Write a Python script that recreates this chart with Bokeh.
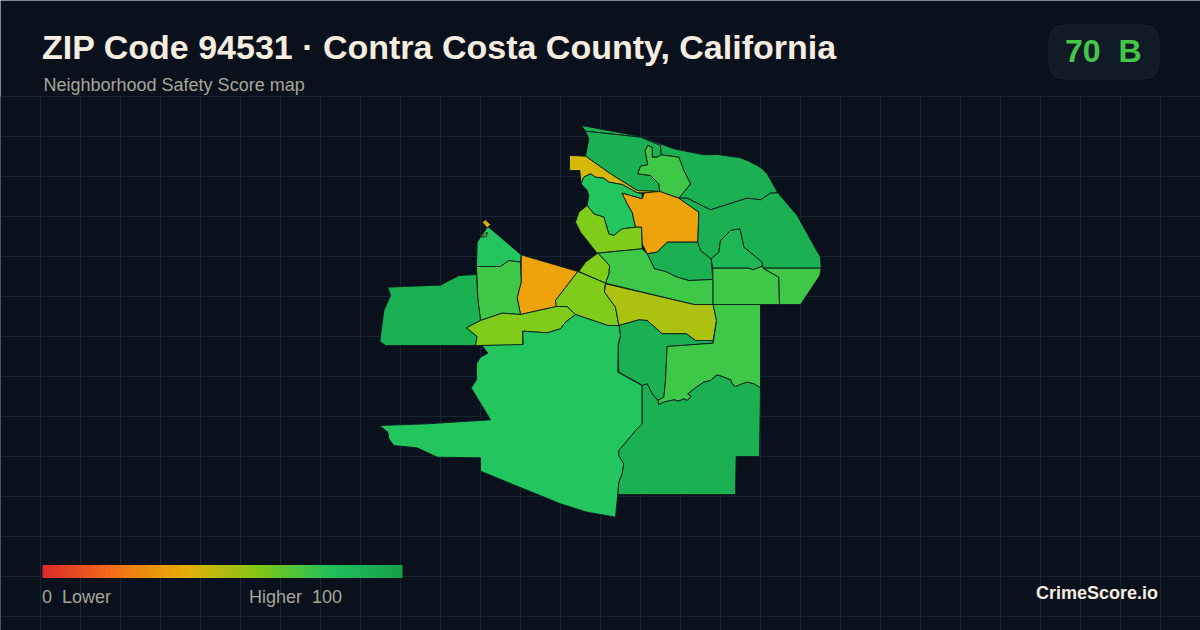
import numpy as np
from bokeh.core.properties import value
from bokeh.embed import file_html
from bokeh.models import BoxAnnotation, ColumnDataSource
from bokeh.plotting import figure
from bokeh.resources import INLINE

TITLE = "ZIP Code 94531 · Contra Costa County, California"
SUBTITLE = "Neighborhood Safety Score map"
BADGE = "70\u00a0\u00a0B"
BRAND = "CrimeScore.io"
LOW_LABEL = "0\u00a0\u00a0Lower"
HIGH_LABEL = "Higher\u00a0\u00a0100"

SCALE_STOPS = [0, 20, 40, 60, 80, 100]
SCALE_COLORS = ["#e02b2b", "#f97316", "#eab308", "#84cc16", "#22c55e", "#16a34a"]

# Region outlines: (origin x, origin y) of the trace, then points at 3 units per map unit.
A = (540, 115)
B = (370, 210)
C = (370, 330)
D = (600, 260)

north_east = [(123,30),(300,63),(400,100),(490,118),(530,117),(600,127),(625,137),(650,150),(665,160),(680,175),(712,232),(690,233),(660,253),(620,248),(510,283),(440,248),(415,248),(450,205),(430,165),(415,125),(362,118),(360,90),(300,65),(135,47)]
north_band = [(135,47),(300,65),(360,90),(362,118),(350,125),(335,125),(335,95),(322,90),(314,105),(322,148),(300,152),(292,175),(330,180),(355,205),(358,228),(290,225),(210,175),(135,122),(145,70)]
north_pocket = [(415,125),(430,165),(450,205),(415,248),(358,228),(355,205),(330,180),(292,175),(300,152),(322,148),(314,105),(322,90),(335,95),(335,125),(350,125),(362,118)]
shore_sliver = [(87,120),(135,122),(210,175),(290,225),(358,228),(312,232),(290,232),(245,207),(205,200),(190,188),(165,185),(150,175),(130,185),(122,205),(118,165),(87,165)]
shore_west = [(122,205),(130,185),(150,175),(165,185),(190,188),(205,200),(245,207),(290,232),(305,235),(305,250),(245,233),(260,265),(275,290),(285,335),(245,340),(220,360),(205,355),(190,305),(160,295),(140,270),(145,240),(140,225)]
central_orange = [(245,233),(305,250),(312,232),(358,228),(415,248),(475,290),(472,380),(380,380),(350,410),(320,415),(305,385),(303,335),(285,335),(275,290),(260,265)]
west_lime = [(140,270),(160,295),(190,305),(205,355),(220,360),(245,340),(285,335),(303,335),(305,400),(170,413),(120,350),(105,320),(115,290)]
below_orange = [(380,380),(472,380),(480,405),(512,430),(517,492),(445,495),(410,485),(375,468),(342,460),(320,415),(350,410)]
north_east_big = [(415,248),(440,248),(510,283),(620,248),(660,253),(690,233),(712,232),(770,300),(820,390),(840,425),(842,458),(668,458),(665,440),(610,395),(598,340),(570,345),(540,375),(535,410),(512,430),(480,405),(472,380),(475,290)]
east_pocket = [(512,430),(535,410),(540,375),(570,345),(598,340),(610,395),(665,440),(665,452),(638,463),(625,458),(517,458)]
east_block = [(517,458),(625,458),(638,463),(665,452),(670,460),(715,485),(717,567),(517,567)]
east_tip = [(668,458),(842,458),(838,480),(780,567),(717,567),(715,485)]
middle_light = [(172,413),(305,400),(320,415),(342,460),(375,468),(410,485),(445,495),(517,492),(517,567),(460,567),(195,503),(205,475),(207,450)]
middle_small = [(172,413),(207,450),(205,475),(195,503),(115,468),(135,440)]
west_orange = [(452,133),(622,183),(555,270),(558,288),(450,312),(440,262),(452,215)]
west_top = [(318,168),(320,95),(352,48),(452,133),(450,155),(415,150),(390,168)]
west_light = [(318,168),(390,168),(415,150),(450,155),(452,215),(440,262),(450,312),(395,308),(330,330),(322,265)]
far_west = [(318,192),(265,195),(210,224),(125,227),(52,230),(60,255),(40,300),(28,393),(45,405),(315,405),(320,378),(288,352),(330,330),(322,265)]
west_strip = [(288,352),(330,330),(395,308),(450,312),(558,288),(590,288),(615,312),(585,335),(570,355),(530,367),(457,362),(457,404),(315,405),(320,378)]
center_lime = [(622,183),(705,218),(702,235),(702,245),(735,290),(745,345),(712,345),(615,312),(590,288),(558,288),(555,270)]
center_olive = [(15,70),(280,132),(338,132),(348,180),(338,240),(285,240),(258,220),(185,220),(140,180),(115,178),(55,195),(45,140),(12,95)]
center_south = [(55,195),(115,178),(140,180),(185,220),(258,220),(285,240),(338,240),(338,248),(200,258),(195,360),(190,410),(172,420),(155,400),(140,370),(125,375),(115,368),(55,335),(52,260),(60,225)]
south_east_light = [(338,132),(480,132),(480,382),(460,370),(440,365),(425,370),(405,378),(395,370),(390,358),(370,350),(350,343),(330,360),(310,365),(285,382),(262,400),(272,408),(260,420),(250,415),(235,422),(220,418),(190,425),(175,432),(172,420),(190,410),(195,360),(200,258),(338,248),(348,180)]
south_main = [(335,45),(458,42),(457,2),(530,7),(570,-5),(585,-25),(615,-48),(712,-15),(745,-15),(750,15),(743,40),(742,125),(805,160),(815,165),(815,280),(800,295),(745,360),(745,375),(760,400),(755,430),(745,455),(742,490),(735,560),(650,545),(570,520),(330,422),(330,382),(200,380),(140,352),(70,345),(55,325),(52,305),(27,285),(170,280),(360,268),(302,172),(318,148),(318,100),(330,80),(352,68)]
south_east_dark = [(815,165),(830,160),(845,190),(862,210),(865,222),(880,215),(910,208),(925,212),(940,205),(950,210),(962,198),(952,190),(975,172),(1000,155),(1020,150),(1040,133),(1060,140),(1080,148),(1085,160),(1095,168),(1115,160),(1130,155),(1150,160),(1170,172),(1167,378),(1097,378),(1095,492),(742,492),(745,455),(755,430),(760,400),(745,375),(745,360),(800,295),(815,280)]
islet_a = [(335,35),(345,28),(360,42),(350,52)]
islet_b = [(335,80),(350,65),(348,78)]

REGIONS = [
    (north_east, A, 92), (north_band, A, 92), (north_pocket, A, 74), (shore_sliver, A, 44),
    (shore_west, A, 80), (central_orange, A, 35), (west_lime, A, 61), (below_orange, A, 92),
    (north_east_big, A, 92), (east_pocket, A, 88), (east_block, A, 74), (east_tip, A, 74),
    (middle_light, A, 74), (middle_small, A, 61), (west_orange, B, 35), (west_top, B, 80),
    (west_light, B, 74), (far_west, B, 92), (west_strip, B, 61), (center_lime, B, 61),
    (center_olive, D, 52), (center_south, D, 92), (south_east_light, D, 74),
    (south_main, C, 80), (south_east_dark, C, 92), (islet_a, B, 44), (islet_b, B, 44),
]


def score_color(score):
    rgb = [int(c[i:i + 2], 16) for c in SCALE_COLORS for i in (1, 3, 5)]
    channels = np.array(rgb).reshape(-1, 3).T
    return "#%02x%02x%02x" % tuple(int(round(np.interp(score, SCALE_STOPS, ch))) for ch in channels)


BG = "#0a111d"
p = figure(width=1200, height=630, x_range=(0, 1200), y_range=(630, 0),
           output_backend="svg", toolbar_location=None, min_border=0,
           background_fill_color=BG, border_fill_color=BG, outline_line_color=None)
p.axis.visible = False
p.grid.visible = False

gx = list(range(0, 1200, 40))
gy = list(range(96, 630, 40))
p.segment(x0=gx, x1=gx, y0=[96] * len(gx), y1=[630] * len(gx), line_color="#162630", line_width=1)
p.segment(x0=[0] * len(gy), x1=[1200] * len(gy), y0=gy, y1=gy, line_color="#162630", line_width=1)

xs = [[o[0] + a / 3 for a, _ in pts] for pts, o, _ in REGIONS]
ys = [[o[1] + b / 3 for _, b in pts] for pts, o, _ in REGIONS]
colors = [score_color(s) for _, _, s in REGIONS]
p.patches(xs="xs", ys="ys", fill_color="colors", line_color="#0b1a1e", line_width=0.9,
          source=ColumnDataSource(dict(xs=xs, ys=ys, colors=colors)))

edges = np.linspace(0, 100, 181)
bar_x = 42 + edges * 3.6
p.quad(left=bar_x[:-1], right=np.minimum(bar_x[1:] + 0.4, 402), top=[564.5] * 180, bottom=[577.5] * 180,
       fill_color=[score_color(e + 0.28) for e in edges[:-1]], line_color=None)

p.add_layout(BoxAnnotation(left=1048.5, right=1158.5, top=24.5, bottom=78.5, border_radius=14,
                           fill_color="#111b27", fill_alpha=1, line_color="#303e4b", line_width=1,
                           level="underlay"))

FONT = value("Liberation Sans")
def label(x, y, text, size, color, style="normal", align="left"):
    p.text(x=[x], y=[y], text=[text], text_font=FONT, text_font_size=size, text_color=color,
           text_font_style=style, text_align=align, text_baseline="middle")

label(41.5, 46, TITLE, "34px", "#f5ede0", "bold")
label(43, 84, SUBTITLE, "18px", "#a8a598")
label(1064.5, 50, BADGE, "32px", "#46c646", "bold")
label(41.5, 596, LOW_LABEL, "18px", "#a8a598")
label(341.5, 596, HIGH_LABEL, "18px", "#a8a598", align="right")
label(1157.5, 592, BRAND, "18px", "#f5ede0", "bold", align="right")

open("out.html", "w").write(file_html(p, INLINE))
